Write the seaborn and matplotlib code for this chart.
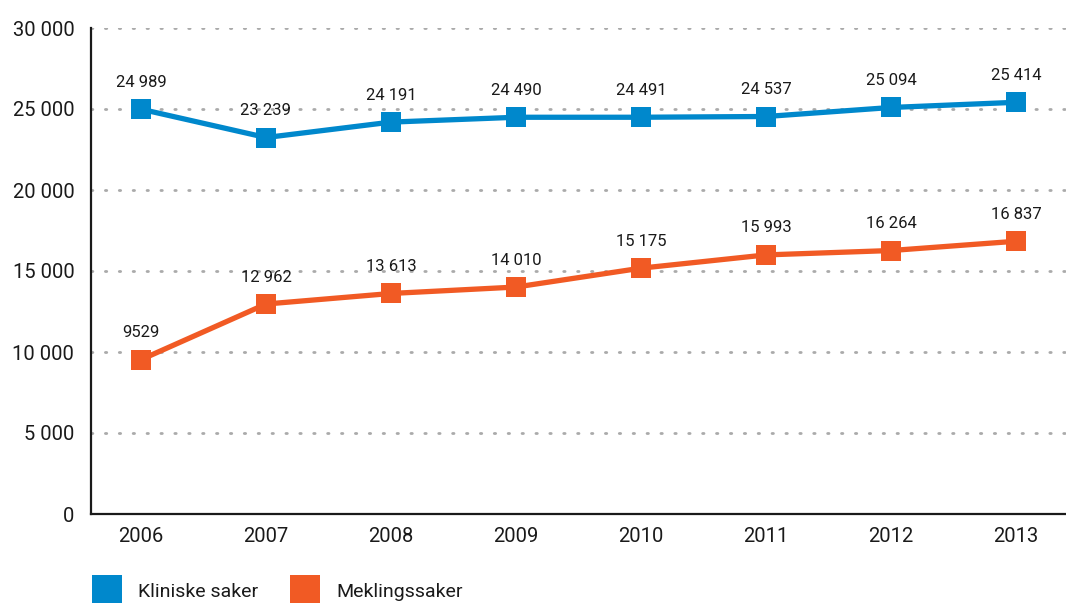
import matplotlib
matplotlib.use("Agg")
import matplotlib.pyplot as plt
import seaborn as sns
import pandas as pd
from matplotlib.lines import Line2D

years = ["2006", "2007", "2008", "2009", "2010", "2011", "2012", "2013"]
kliniske = [24989, 23239, 24191, 24490, 24491, 24537, 25094, 25414]
mekling = [9529, 12962, 13613, 14010, 15175, 15993, 16264, 16837]
series_names = ["Kliniske saker", "Meklingssaker"]
colors = ["#0088CC", "#F15A24"]
yticks = [0, 5000, 10000, 15000, 20000, 25000, 30000]

def fmt(v):
    return f"{v:,}".replace(",", " ") if v >= 10000 else str(v)

sns.set_style("white")
plt.rcParams["font.family"] = ["Roboto", "DejaVu Sans"]

fig = plt.figure(figsize=(10.66, 6.03), dpi=100)
ax = fig.add_axes([91/1066, 1-514/603, 1-91/1066, (514-28)/603])

df = pd.DataFrame({"year": list(range(len(years))) * 2,
                   "value": kliniske + mekling,
                   "series": [series_names[0]] * len(years) + [series_names[1]] * len(years)})

for name, col in zip(series_names, colors):
    sub = df[df["series"] == name]
    sns.lineplot(data=sub, x="year", y="value", ax=ax, color=col, lw=3.8,
                 marker="s", markersize=14, markeredgewidth=0, zorder=3)
    for x, v in zip(sub["year"], sub["value"]):
        ax.annotate(fmt(v), (x, v), xytext=(0, 14), textcoords="offset points",
                    ha="center", va="bottom", fontsize=12, color="#1a1a1a")

ax.set_xlim(-0.4, 7.4)
ax.set_ylim(0, 30000)
ax.set_yticks(yticks)
ax.set_yticklabels([f"{v:,}".replace(",", " ") for v in yticks])
ax.set_xticks(range(len(years)))
ax.set_xticklabels(years)
ax.tick_params(axis="both", length=0, labelsize=14.5, colors="#1a1a1a")
ax.tick_params(axis="y", pad=12)
ax.tick_params(axis="x", pad=9)
for y in yticks[1:]:
    ax.axhline(y, color="#aaaaaa", lw=2, linestyle=(0, (0.5, 4.5)),
               dash_capstyle="round", zorder=1)
ax.set_xlabel("")
ax.set_ylabel("")
for s in ["top", "right"]:
    ax.spines[s].set_visible(False)
for s in ["left", "bottom"]:
    ax.spines[s].set_color("#1a1a1a")
    ax.spines[s].set_linewidth(1.6)
if ax.get_legend():
    ax.get_legend().remove()

handles = [Line2D([], [], marker="s", linestyle="none", markersize=22,
                  markerfacecolor=c, markeredgewidth=0) for c in colors]
fig.legend(handles, series_names, loc="lower left", bbox_to_anchor=(0.066, -0.025),
           ncol=2, frameon=False, fontsize=14, handletextpad=0.6, columnspacing=1.4,
           labelcolor="#1a1a1a")

fig.savefig("out.png", dpi=100)
